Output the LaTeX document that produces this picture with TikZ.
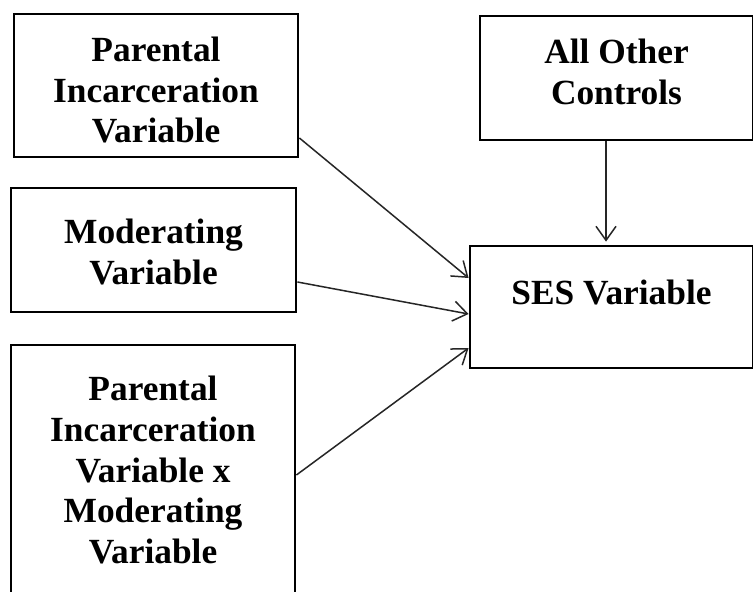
\documentclass[tikz,border=0pt]{standalone}
\usepackage{fontspec}
\setmainfont{Liberation Serif}
\usetikzlibrary{arrows.meta}
\begin{document}
\begin{tikzpicture}[x=1bp,y=-1bp,
  boxnode/.style={draw=black,line width=2.8bp,inner sep=0pt,rectangle},
  label/.style={align=center,inner sep=0pt,font=\fontsize{35.5}{41}\selectfont\bfseries},
  arr/.style={line width=1.5bp,draw=black!85,-{Straight Barb[length=14bp,width=20bp,line width=1.5bp]}}]
\useasboundingbox (0,0) rectangle (753,592);
\fill[white] (0,0) rectangle (753,592);
% boxes
\node[boxnode,minimum width=284bp,minimum height=143bp] (b1) at (156,85.5) {};
\node[boxnode,minimum width=285bp,minimum height=124bp] (b2) at (153.5,250) {};
\node[boxnode,minimum width=284bp,minimum height=265bp] (b3) at (153,477.5) {};
\node[boxnode,minimum width=273bp,minimum height=124bp] (b4) at (616.5,78) {};
\node[boxnode,minimum width=283bp,minimum height=122bp] (b5) at (611.5,307) {};
% texts
\node[label] (t1) at (156,90) {Parental\\Incarceration\\Variable};
\node[label] (t2) at (153.5,252) {Moderating\\Variable};
\node[label] (t3) at (153,470) {Parental\\Incarceration\\Variable x\\Moderating\\Variable};
\node[label] (t4) at (616.5,71.5) {All Other\\Controls};
\node[label] (t5) at (611.5,292) {SES Variable};
% helper coordinates
\coordinate (s1) at (0,138);
\coordinate (s2) at (0,282);
\coordinate (s3) at (0,475);
\coordinate (e1) at (0,278);
\coordinate (e2) at (0,314);
\coordinate (e3) at (0,348);
\coordinate (vx) at (606,0);
% arrows
\draw[arr] (b1.east |- s1) -- (b5.west |- e1);
\draw[arr] (b2.east |- s2) -- (b5.west |- e2);
\draw[arr] (b3.east |- s3) -- (b5.west |- e3);
\draw[arr] (vx |- b4.south) -- ([yshift=3bp]vx |- b5.north);
\end{tikzpicture}
\end{document}
